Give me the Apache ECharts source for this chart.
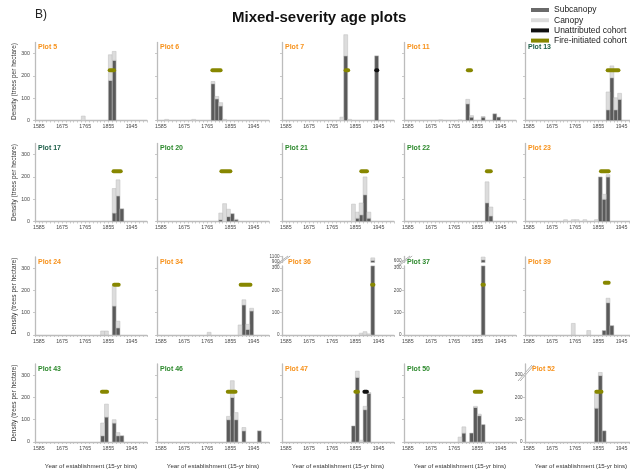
<!DOCTYPE html>
<html>
<head>
<meta charset="utf-8">
<script src="https://cdn.jsdelivr.net/npm/echarts@6/dist/echarts.min.js"></script>
<style>
  html, body { margin: 0; padding: 0; background: #ffffff; }
  #chart { width: 630px; height: 476px; }
</style>
</head>
<body>
<div id="chart"></div>
<script>
// ---- Data -------------------------------------------------------------
// Panels, left-to-right then top-to-bottom.
const plotNames = [
  'Plot 5', 'Plot 6', 'Plot 7', 'Plot 11', 'Plot 13',
  'Plot 17', 'Plot 20', 'Plot 21', 'Plot 22', 'Plot 23',
  'Plot 24', 'Plot 34', 'Plot 36', 'Plot 37', 'Plot 39',
  'Plot 43', 'Plot 46', 'Plot 47', 'Plot 50', 'Plot 52'
];
// Plot grouping shown by the colour of each panel label.
const plotGroup = [
  'A', 'A', 'A', 'A', 'C',
  'C', 'B', 'B', 'B', 'A',
  'A', 'A', 'A', 'B', 'A',
  'B', 'B', 'A', 'B', 'A'
];

// Establishment density (trees per hectare) per 15-yr bin: [bin start year, density]
const subcanopy = [
  [[1855, 180], [1870, 270]],                                     // Plot 5
  [[1780, 165], [1795, 97], [1810, 65]],                          // Plot 6
  [[1810, 290], [1930, 290]],                                     // Plot 7
  [[1810, 75], [1825, 15], [1870, 15], [1915, 30], [1930, 15]],   // Plot 11
  [[1885, 48], [1900, 192], [1915, 48], [1930, 95]],              // Plot 13
  [[1870, 38], [1885, 115], [1900, 57]],                          // Plot 17
  [[1810, 8], [1840, 22], [1855, 35], [1870, 8]],                 // Plot 20
  [[1855, 15], [1870, 30], [1885, 120], [1900, 15]],              // Plot 21
  [[1885, 84], [1900, 25]],                                       // Plot 22
  [[1855, 200], [1870, 100], [1885, 200]],                        // Plot 23
  [[1870, 130], [1885, 32]],                                      // Plot 24
  [[1900, 135], [1915, 25], [1930, 108]],                         // Plot 34
  [[1915, 960]],                                                  // Plot 36
  [[1870, 620]],                                                  // Plot 37
  [[1870, 20], [1885, 145], [1900, 42]],                          // Plot 39
  [[1825, 28], [1840, 112], [1870, 85], [1885, 28], [1900, 28]],  // Plot 43
  [[1840, 100], [1855, 200], [1870, 100], [1900, 50], [1960, 50]],// Plot 46
  [[1840, 72], [1855, 290], [1885, 145], [1900, 218]],            // Plot 47
  [[1795, 40], [1825, 40], [1840, 155], [1855, 118], [1870, 78]], // Plot 50
  [[1840, 152], [1855, 298], [1870, 50]]                          // Plot 52
];
const canopy = [
  [[1750, 20], [1855, 115], [1870, 40]],                                          // Plot 5
  [[1600, 5], [1705, 5], [1780, 10], [1795, 11], [1810, 15], [1825, 5]],          // Plot 6
  [[1795, 15], [1810, 95], [1825, 5]],                                            // Plot 7
  [[1705, 3], [1780, 3], [1810, 20], [1825, 7], [1870, 3]],                       // Plot 11
  [[1885, 80], [1900, 53], [1915, 54], [1930, 27]],                               // Plot 13
  [[1870, 110], [1885, 72]],                                                      // Plot 17
  [[1810, 30], [1825, 80], [1840, 33], [1870, 2]],                                // Plot 20
  [[1840, 78], [1855, 27], [1870, 53], [1885, 80], [1900, 27]],                   // Plot 21
  [[1885, 94], [1900, 40]],                                                       // Plot 22
  [[1720, 8], [1750, 8], [1765, 8], [1795, 8], [1840, 8], [1870, 22], [1885, 10]],// Plot 23
  [[1825, 18], [1840, 18], [1870, 92], [1885, 30]],                               // Plot 24
  [[1765, 12], [1885, 45], [1900, 23], [1915, 23], [1930, 12]],                   // Plot 34
  [[1870, 8], [1885, 15], [1900, 5], [1915, 90]],                                 // Plot 36
  [[1870, 100]],                                                                  // Plot 37
  [[1750, 52], [1810, 20], [1885, 20]],                                           // Plot 39
  [[1825, 57], [1840, 58], [1870, 15], [1885, 14]],                               // Plot 43
  [[1840, 15], [1855, 75], [1870, 32], [1900, 15]],                               // Plot 46
  [[1855, 28], [1870, 8], [1885, 15], [1900, 4]],                                 // Plot 47
  [[1780, 22], [1795, 28], [1840, 5], [1855, 7]],                                 // Plot 50
  [[1840, 68], [1855, 14]]                                                        // Plot 52
];

// Cohorts: [start year, end year, density level]
const fireCohort = [
  [1860, 1877, 225], [1785, 1817, 225], [1817, 1827, 225], [1818, 1830, 225], [1891, 1933, 225],
  [1875, 1903, 225], [1820, 1855, 225], [1878, 1900, 225], [1892, 1907, 225], [1865, 1895, 225],
  [1877, 1895, 225], [1895, 1933, 225], [1920, 1925, 225], [1875, 1880, 225], [1880, 1895, 235],
  [1830, 1850, 225], [1845, 1875, 225], [1855, 1865, 225], [1845, 1870, 225], [1847, 1867, 225]
];
const unattributedCohort = [
  null, null, [1936, 1940, 225], null, null,
  null, null, null, null, null,
  null, null, null, null, null,
  null, null, [1890, 1900, 225], null, null
];

// Axis ranges and tick labels
const binWidth = 15;
const xRange = [1570, 2005];
const xTickLabels = [1585, 1675, 1765, 1855, 1945];
const yTickLabels = [0, 100, 200, 300];
// Plots whose y axis is broken: lower segment range, upper segment range and labels
const brokenLowerMax = 310;
const brokenUpperRange = { 'Plot 36': [880, 1100], 'Plot 37': [520, 740] };
const brokenUpperLabels = { 'Plot 36': [900, 1000, 1100], 'Plot 37': [600, 700] };
const labelledBrokenPlots = ['Plot 36', 'Plot 37', 'Plot 52'];

// ---- Layout & style ---------------------------------------------------
const COL_LEFT = [35, 157, 282, 404, 525];
const ROW_ZERO = [120.5, 221.5, 335, 442];
const GRID_W = 112;
const GRID_H = 78;
const Y_MAX = 350;
const PX_PER_UNIT = GRID_H / Y_MAX;

const DARK = '#5a5a5a';
const LIGHT = '#dcdcdc';
const BAR_EDGE = '#bdbdbd';
const FIRE = '#878700';
const UNATTR = '#111111';
const AXIS = '#bcbcbc';
const TICK_TEXT = '#4a4a4a';
const GROUP_COLORS = { A: '#f7921c', B: '#2e8a2e', C: '#1d5e48' };
const FONT = '"Liberation Sans", Arial, Helvetica, sans-serif';

const xTickValues = [];
for (let y = xRange[0]; y <= xRange[1]; y += binWidth) xTickValues.push(y);

function barRenderer(fill, clipToGrid) {
  return function (params, api) {
    const year = api.value(0);
    const lo = api.value(1);
    const hi = api.value(2);
    if (hi <= lo) return null;
    const a = api.coord([year, lo]);
    const b = api.coord([year + binWidth, hi]);
    let rect = { x: a[0], y: b[1], width: b[0] - a[0], height: a[1] - b[1] };
    if (clipToGrid) {
      const cs = params.coordSys;
      rect = echarts.graphic.clipRectByRect(rect, { x: cs.x, y: cs.y, width: cs.width, height: cs.height });
      if (!rect || rect.height <= 0) return null;
    }
    return {
      type: 'rect',
      shape: rect,
      style: { fill: fill, stroke: BAR_EDGE, lineWidth: 0.5 }
    };
  };
}

const grids = [], xAxes = [], yAxes = [], series = [], titles = [], graphics = [];

function addGrid(rect, opts) {
  const gi = grids.length;
  grids.push({ left: rect.left, top: rect.top, width: rect.width, height: rect.height,
               containLabel: false, outerBoundsMode: 'none' });
  xAxes.push({
    type: 'value', gridIndex: gi, min: xRange[0], max: xRange[1],
    show: opts.showX,
    axisLine: { show: true, onZero: false, lineStyle: { color: AXIS, width: 1.3 } },
    axisTick: { show: true, length: 2, customValues: xTickValues, lineStyle: { color: AXIS, width: 0.8 } },
    axisLabel: { show: true, customValues: xTickLabels, fontSize: 5.3, color: TICK_TEXT,
                 margin: 4, fontFamily: FONT, formatter: v => String(v) },
    splitLine: { show: false },
    name: opts.xName || '', nameLocation: 'middle', nameGap: 21,
    nameTextStyle: { fontSize: 6.2, color: '#333', fontFamily: FONT }
  });
  const ticks = opts.yTicks || yTickLabels;
  yAxes.push({
    type: 'value', gridIndex: gi, min: opts.yMin, max: opts.yMax,
    axisLine: { show: true, lineStyle: { color: AXIS, width: 1.3 } },
    axisTick: { show: true, length: 2, customValues: ticks, lineStyle: { color: AXIS, width: 0.8 } },
    axisLabel: { show: opts.showYLabels, customValues: ticks, fontSize: opts.yLabelSize, color: TICK_TEXT,
                 margin: opts.yLabelMargin, fontFamily: FONT, formatter: v => String(v),
                 hideOverlap: false, showMinLabel: true, showMaxLabel: true },
    splitLine: { show: false },
    name: opts.yName || '', nameLocation: 'middle', nameGap: 17,
    nameTextStyle: { fontSize: 6.5, color: '#333', fontFamily: FONT }
  });
  return gi;
}

function addBars(gi, p, clip) {
  const subByYear = {};
  subcanopy[p].forEach(([yr, v]) => { subByYear[yr] = v; });
  series.push({
    type: 'custom', name: 'Subcanopy', xAxisIndex: gi, yAxisIndex: gi,
    renderItem: barRenderer(DARK, clip), itemStyle: { color: DARK },
    encode: { x: 0, y: 2 }, silent: true, z: 2,
    data: subcanopy[p].map(([yr, v]) => [yr, 0, v])
  });
  series.push({
    type: 'custom', name: 'Canopy', xAxisIndex: gi, yAxisIndex: gi,
    renderItem: barRenderer(LIGHT, clip), itemStyle: { color: LIGHT },
    encode: { x: 0, y: 2 }, silent: true, z: 2,
    data: canopy[p].map(([yr, v]) => {
      const base = subByYear[yr] || 0;
      return [yr, base, base + v];
    })
  });
}

function addCohort(gi, cohort, name, color) {
  if (!cohort) return;
  series.push({
    type: 'line', name: name, xAxisIndex: gi, yAxisIndex: gi,
    symbol: 'none', silent: true, z: 5,
    itemStyle: { color: color },
    lineStyle: { color: color, width: 4, cap: 'round' },
    data: [[cohort[0], cohort[2]], [cohort[1], cohort[2]]]
  });
}

function breakMark(axisX, yLow, yHigh) {
  [0, 2.2].forEach(dx => {
    graphics.push({
      type: 'line', silent: true,
      shape: { x1: axisX - 8 + dx, y1: yLow, x2: axisX + 6 + dx, y2: yHigh },
      style: { stroke: '#a8a8a8', lineWidth: 0.9 }
    });
  });
}

plotNames.forEach((name, p) => {
  const r = Math.floor(p / 5), c = p % 5;
  const left = COL_LEFT[c];
  const zero = ROW_ZERO[r];
  const rowTop = zero - GRID_H;
  const labelled = c === 0 || labelledBrokenPlots.includes(name);
  const common = {
    showX: true,
    xName: r === 3 ? 'Year of establishment (15-yr bins)' : '',
    yName: c === 0 ? 'Density (trees per hectare)' : '',
    showYLabels: labelled,
    yLabelSize: c === 0 ? 5.3 : 4.6,
    yLabelMargin: c === 0 ? 5 : 2.5
  };
  const upper = brokenUpperRange[name];
  let lowerGi;
  if (upper) {
    const lowerH = brokenLowerMax * PX_PER_UNIT;
    lowerGi = addGrid({ left: left, top: zero - lowerH, width: GRID_W, height: lowerH },
      Object.assign({}, common, { yMin: 0, yMax: brokenLowerMax }));
    addBars(lowerGi, p, true);
    const upperGi = addGrid({ left: left, top: rowTop - 0.5, width: GRID_W, height: 6 },
      Object.assign({}, common, { showX: false, xName: '', yName: '', yMin: upper[0], yMax: upper[1],
                                   yTicks: brokenUpperLabels[name] }));
    addBars(upperGi, p, true);
    breakMark(left, zero - 300 * PX_PER_UNIT - 2, rowTop - 1);
  } else {
    lowerGi = addGrid({ left: left, top: rowTop, width: GRID_W, height: GRID_H },
      Object.assign({}, common, { yMin: 0, yMax: Y_MAX }));
    addBars(lowerGi, p, false);
    if (name === 'Plot 52') breakMark(left + 1, rowTop + 17, rowTop + 1);
  }
  addCohort(lowerGi, fireCohort[p], 'Fire-initiated cohort', FIRE);
  addCohort(lowerGi, unattributedCohort[p], 'Unattributed cohort', UNATTR);

  const shift = (name === 'Plot 36') ? 6 : (name === 'Plot 52' ? 7 : 3);
  titles.push({
    text: name, left: left + shift, top: rowTop + 1.5, padding: 0,
    textStyle: { fontSize: 7, fontWeight: 'bold', color: GROUP_COLORS[plotGroup[p]], fontFamily: FONT }
  });
});

titles.unshift(
  { text: 'Mixed-severity age plots', left: 232, top: 10, padding: 0,
    textStyle: { fontSize: 15, fontWeight: 'bold', color: '#111', fontFamily: FONT } },
  { text: 'B)', left: 35, top: 9, padding: 0,
    textStyle: { fontSize: 12, fontWeight: 'normal', color: '#222', fontFamily: FONT } }
);

const option = {
  animation: false,
  backgroundColor: '#ffffff',
  textStyle: { fontFamily: FONT },
  title: titles,
  legend: {
    orient: 'vertical', left: 531, top: 5.5, padding: 0,
    itemWidth: 18, itemHeight: 4, itemGap: 1.2, selectedMode: false,
    textStyle: { fontSize: 8.5, color: '#222', fontFamily: FONT },
    data: [
      { name: 'Subcanopy', icon: 'rect', itemStyle: { color: '#6a6a6a' } },
      { name: 'Canopy', icon: 'rect', itemStyle: { color: LIGHT } },
      { name: 'Unattributed cohort', icon: 'rect', itemStyle: { color: UNATTR } },
      { name: 'Fire-initiated cohort', icon: 'rect', itemStyle: { color: FIRE } }
    ]
  },
  grid: grids,
  xAxis: xAxes,
  yAxis: yAxes,
  series: series,
  graphic: graphics
};

const chart = echarts.init(document.getElementById('chart'), null, { renderer: 'canvas' });
chart.setOption(option);
</script>
</body>
</html>
